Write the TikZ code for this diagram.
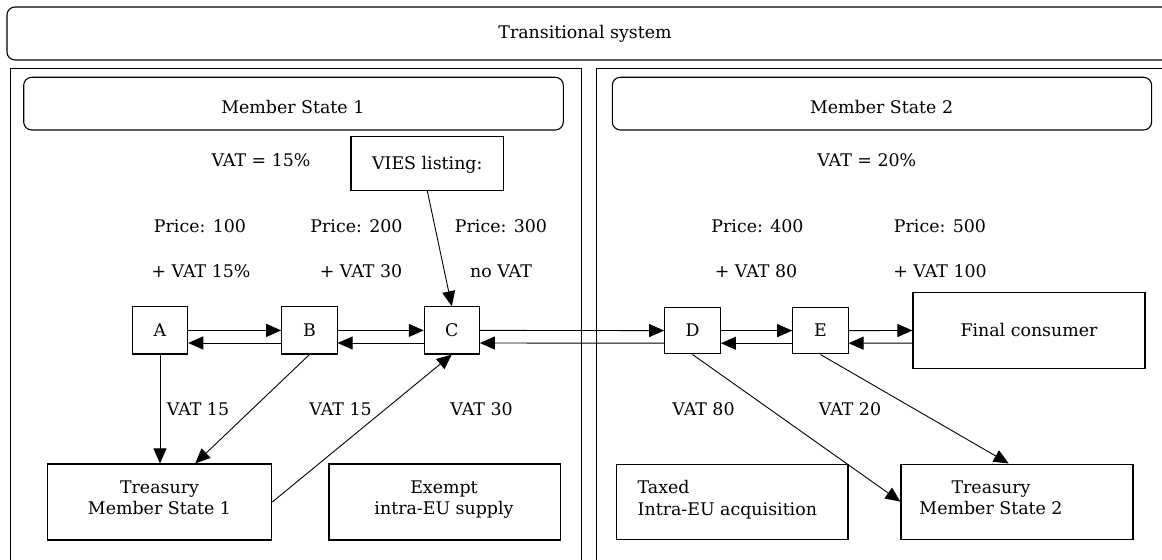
\documentclass[tikz,border=0pt]{standalone}
\usepackage{fontspec}
\setmainfont{DejaVu Serif}
\usetikzlibrary{arrows.meta}
\begin{document}
\begin{tikzpicture}[x=1bp,y=-1bp,
  every node/.style={font=\fontsize{17.4bp}{21.7bp}\selectfont, inner sep=0pt},
  frame/.style={draw, line width=1.1bp},
  rframe/.style={draw, line width=1.1bp, rounded corners=8bp},
  box/.style={draw, line width=1.1bp, text height=12.7bp, text depth=0pt},
  plainbox/.style={draw, line width=1.1bp},
  lbl/.style={anchor=base},
  multi/.style={align=center, text depth=0pt},
  arr/.style={-{Triangle[length=15bp,width=13bp]}, line width=0.9bp},
  ln/.style={line width=0.9bp}
]
\useasboundingbox (0,0) rectangle (1162,560);
% outer frames
\draw[rframe] (7,7) rectangle (1180,60);
\node[lbl] (title) at (585,38.3) {Transitional system};
\draw[frame] (10.3,68.3) rectangle (581.7,580);
\draw[frame] (596.7,68.3) rectangle (1180,580);
\draw[rframe] (23.7,77.3) rectangle (563.3,130);
\draw[rframe] (612.3,77.3) rectangle (1151.6,130);
\node[lbl] (ms1) at (292.8,113.3) {Member State 1};
\node[lbl] (ms2) at (881.6,113.3) {Member State 2};
\node[lbl] (vat1) at (261,166.7) {VAT = 15\%};
\node[lbl] (vat2) at (866.8,166.7) {VAT = 20\%};
% VIES
\node[box, minimum width=152.6bp, minimum height=53.5bp] (V) at (427.3,163.6) {VIES listing:};
% price labels
\node[lbl] (p1) at (200,233) {Price: 100};
\node[lbl] (p2) at (356.5,233) {Price: 200};
\node[lbl] (p3) at (501,233) {Price: 300};
\node[lbl] (p4) at (757.5,233) {Price: 400};
\node[lbl] (p5) at (940,233) {Price: 500};
\node[lbl] (v1) at (201,278) {+ VAT 15\%};
\node[lbl] (v2) at (361,278) {+ VAT 30};
\node[lbl] (v3) at (501,278) {no VAT};
\node[lbl] (v4) at (756,278) {+ VAT 80};
\node[lbl] (v5) at (940,278) {+ VAT 100};
% trader boxes
\node[box, minimum width=55.4bp, minimum height=47.3bp] (A) at (160,330.4) {A};
\node[box, minimum width=55.3bp, minimum height=47.3bp] (B) at (309.4,330.4) {B};
\node[box, minimum width=55bp, minimum height=47.3bp] (C) at (451.8,330.4) {C};
\node[box, minimum width=55.7bp, minimum height=46.7bp] (D) at (692.5,330.6) {D};
\node[box, minimum width=55.3bp, minimum height=46.7bp] (E) at (820.4,330.6) {E};
\node[box, minimum width=232bp, minimum height=75.6bp] (F) at (1029,330.5) {Final consumer};
% bottom boxes
\node[plainbox, minimum width=224bp, minimum height=76bp] (T1) at (159.75,502) {};
\node[multi] (T1t) at (159.5,497.8) {Treasury\\Member State 1};
\node[plainbox, minimum width=231.7bp, minimum height=76bp] (X) at (444.8,502) {};
\node[multi] (Xt) at (444,497.8) {Exempt\\intra-EU supply};
\node[plainbox, minimum width=231.6bp, minimum height=75.3bp] (Tx) at (732.2,501.7) {};
\node[align=left, text depth=0pt, anchor=west] (Txt) at (637.5,497.8) {Taxed\\Intra-EU acquisition};
\node[plainbox, minimum width=232bp, minimum height=75.3bp] (T2) at (1017,501.7) {};
\node[multi] (T2t) at (991,497.8) {Treasury\\Member State 2};
% edge labels
\node[lbl] (e1) at (198,415) {VAT 15};
\node[lbl] (e2) at (340.6,415) {VAT 15};
\node[lbl] (e3) at (481.6,415) {VAT 30};
\node[lbl] (e4) at (703.5,415) {VAT 80};
\node[lbl] (e5) at (850,415) {VAT 20};
% horizontal double arrows
\foreach \a/\b in {A/B,B/C,C/D,D/E,E/F}{
  \draw[arr] (\a.east) -- (\b.west);
  \draw[arr] ([yshift=-12.6bp]\b.west) -- ([yshift=-12.6bp]\a.east);
}
% other connectors
\draw[arr] (V.south) -- (C.north);
\draw[arr] (A.south) -- (A.south |- T1.north);
\draw[arr] (B.south) -- ([xshift=35.5bp]T1.north);
\draw[arr] (T1.east) -- (C.south);
\draw[arr] (D.south) -- (T2.west);
\draw[arr] (E.south) -- ([xshift=-8.3bp]T2.north);
\end{tikzpicture}
\end{document}
